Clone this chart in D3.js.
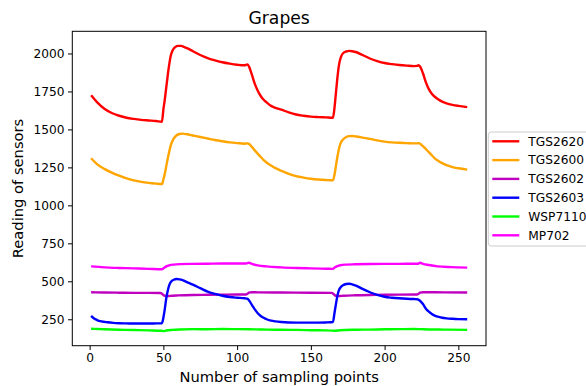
<!DOCTYPE html>
<html><head><meta charset="utf-8">
<script src="https://cdn.jsdelivr.net/npm/d3@7"></script>
<style>body{margin:0;background:#fff;}svg{display:block;font-family:"DejaVu Sans",sans-serif;}</style>
</head><body><svg id="c" width="586" height="386"></svg>
<script>
const title = "Grapes";
const xLabel = "Number of sampling points";
const yLabel = "Reading of sensors";
const xTicks = [0, 50, 100, 150, 200, 250];
const yTicks = [250, 500, 750, 1000, 1250, 1500, 1750, 2000];
const seriesNames = ["TGS2620", "TGS2600", "TGS2602", "TGS2603", "WSP7110", "MP702"];
const seriesColors = ["#ff0000", "#ffa500", "#bf00bf", "#0000ff", "#00ff00", "#ff00ff"];

const tgs2620 = [[1,1725],[5,1680],[10,1636],[15,1608],[20,1590],[25,1577],[30,1569],[35,1563],[40,1559],[45,1555],[49,1550],[50,1630],[51,1700],[52,1780],[53,1860],[54,1930],[55,1985],[56,2015],[57,2032],[58,2042],[60,2050],[62,2050],[64,2044],[66,2035],[70,2015],[75,1990],[80,1970],[85,1955],[90,1942],[95,1933],[100,1926],[105,1922],[107,1928],[108,1915],[110,1860],[112,1800],[114,1755],[116,1720],[118,1695],[120,1678],[123,1655],[126,1642],[130,1630],[135,1612],[140,1598],[145,1590],[150,1584],[155,1581],[160,1579],[165,1577],[166,1640],[167,1740],[168,1840],[169,1920],[170,1965],[171,1990],[172,2003],[174,2013],[176,2017],[178,2015],[181,2008],[185,1990],[190,1967],[195,1950],[200,1937],[205,1930],[210,1924],[215,1920],[220,1917],[222,1918],[223,1922],[224,1915],[226,1870],[228,1810],[230,1765],[232,1735],[234,1715],[236,1700],[239,1683],[242,1672],[246,1662],[250,1655],[256,1647]];
const tgs2600 = [[1,1310],[5,1272],[10,1240],[15,1215],[20,1195],[25,1178],[30,1165],[35,1155],[40,1148],[45,1143],[49,1140],[50,1170],[51,1210],[52,1260],[53,1310],[54,1355],[55,1395],[57,1440],[59,1462],[61,1470],[63,1472],[66,1468],[70,1460],[75,1450],[80,1440],[85,1430],[90,1422],[95,1415],[100,1410],[105,1406],[107,1408],[108,1405],[110,1385],[112,1362],[114,1340],[116,1318],[118,1298],[120,1282],[123,1262],[126,1245],[130,1228],[135,1208],[140,1193],[145,1183],[150,1175],[155,1170],[160,1167],[165,1165],[166,1200],[167,1260],[168,1320],[169,1370],[170,1405],[172,1435],[174,1450],[176,1456],[178,1457],[181,1453],[185,1446],[190,1438],[195,1428],[200,1420],[205,1415],[210,1412],[215,1410],[220,1408],[222,1408],[223,1410],[224,1406],[226,1390],[228,1370],[230,1350],[232,1330],[234,1310],[236,1295],[239,1278],[242,1265],[246,1252],[250,1244],[256,1235]];
const tgs2602 = [[1,428],[10,426],[20,425],[30,424],[40,424],[48,423],[49,418],[50,410],[51,405],[53,403],[56,405],[60,407],[70,410],[80,411],[90,412],[100,413],[106,413],[107,418],[108,425],[110,428],[114,427],[130,426],[150,425],[164,424],[165,420],[166,410],[167,405],[169,403],[172,405],[180,408],[190,410],[200,411],[210,412],[222,413],[223,418],[224,425],[226,428],[240,427],[256,426]];
const tgs2603 = [[1,272],[3,255],[5,245],[8,236],[12,230],[16,226],[20,224],[25,223],[30,222],[35,222],[40,222],[45,223],[49,224],[50,260],[51,320],[52,390],[53,440],[54,475],[55,495],[57,510],[59,515],[61,513],[63,508],[66,495],[70,478],[75,455],[80,432],[85,417],[90,405],[95,397],[100,392],[105,388],[107,385],[108,375],[110,345],[112,315],[114,290],[116,272],[118,260],[120,250],[123,241],[126,236],[130,232],[135,229],[140,228],[145,228],[150,228],[155,228],[160,229],[165,232],[166,290],[167,350],[168,405],[169,440],[170,458],[172,475],[174,482],[176,484],[178,480],[181,470],[185,450],[190,428],[195,410],[200,398],[205,392],[210,388],[215,385],[220,383],[222,382],[224,372],[226,350],[228,320],[230,300],[232,285],[234,274],[236,267],[239,260],[242,256],[246,253],[250,251],[256,250]];
const wsp7110 = [[1,188],[10,184],[20,181],[30,179],[40,177],[49,174],[50,172],[52,176],[56,180],[61,183],[70,185],[80,184],[90,186],[100,185],[108,184],[115,183],[120,182],[130,181],[140,180],[150,178],[160,177],[165,175],[166,174],[170,178],[180,181],[190,182],[200,184],[210,185],[220,186],[224,185],[230,183],[240,182],[256,180]];
const mp702 = [[1,598],[10,592],[20,588],[30,585],[40,582],[49,579],[50,585],[52,598],[54,605],[57,610],[61,613],[70,615],[80,616],[90,617],[100,617],[106,617],[108,622],[110,615],[114,605],[120,598],[130,592],[140,588],[150,585],[160,583],[165,582],[166,590],[168,600],[170,606],[174,610],[180,612],[190,614],[200,615],[210,615],[220,616],[223,616],[224,622],[226,615],[230,607],[236,598],[245,593],[256,590]];
const seriesData = [tgs2620, tgs2600, tgs2602, tgs2603, wsp7110, mp702];

const svg = d3.select("#c");
const L = 72.3, R = 486, T = 31.3, B = 345.7;
const x = d3.scaleLinear().domain([-11.75, 268.75]).range([L, R]);
const y = d3.scaleLinear().domain([76, 2146]).range([B, T]);

svg.append("rect").attr("x",0).attr("y",0).attr("width",586).attr("height",386).attr("fill","#fff");

const line = d3.line().x(d => x(d[0])).y(d => y(d[1])).curve(d3.curveMonotoneX);
const plot = svg.append("g");
seriesData.forEach((s, i) => {
  plot.append("path").datum(s).attr("d", line).attr("fill","none")
    .attr("stroke", seriesColors[i]).attr("stroke-width", 2.4)
    .attr("stroke-linejoin","round").attr("stroke-linecap","butt");
});

const xAxis = d3.axisBottom(x).tickValues(xTicks).tickFormat(d3.format("d")).tickSizeInner(4.3).tickSizeOuter(0).tickPadding(3.5);
const yAxis = d3.axisLeft(y).tickValues(yTicks).tickFormat(d3.format("d")).tickSizeInner(4.3).tickSizeOuter(0).tickPadding(3.5);
const gx = svg.append("g").attr("transform", `translate(0,${B})`).call(xAxis);
const gy = svg.append("g").attr("transform", `translate(${L},0)`).call(yAxis);
[gx, gy].forEach(g => {
  g.select(".domain").remove();
  g.selectAll("line").attr("stroke","#000").attr("stroke-width",1);
  g.selectAll("text").attr("fill","#000").style("font-size","12.2px").style("font-family","DejaVu Sans");
});

svg.append("rect").attr("x",L).attr("y",T).attr("width",R-L).attr("height",B-T)
  .attr("fill","none").attr("stroke","#000").attr("stroke-width",1);

svg.append("text").attr("x",(L+R)/2).attr("y",24).attr("text-anchor","middle")
  .style("font-size","17.2px").attr("fill","#000").text(title);
svg.append("text").attr("x",(L+R)/2).attr("y",382).attr("text-anchor","middle")
  .style("font-size","14.7px").attr("fill","#000").text(xLabel);
svg.append("text").attr("transform",`translate(23,${(T+B)/2}) rotate(-90)`).attr("text-anchor","middle")
  .style("font-size","14.7px").attr("fill","#000").text(yLabel);

const lg = svg.append("g");
lg.append("rect").attr("x",488.3).attr("y",132).attr("width",140).attr("height",114)
  .attr("rx",3).attr("fill","#fff").attr("fill-opacity",0.8).attr("stroke","#cccccc").attr("stroke-width",1);
seriesNames.forEach((n, i) => {
  const yy = 141.3 + i * 18.8;
  lg.append("line").attr("x1",492.3).attr("x2",519.3).attr("y1",yy).attr("y2",yy)
    .attr("stroke",seriesColors[i]).attr("stroke-width",2.4);
  lg.append("text").attr("x",528.3).attr("y",yy).attr("dy","0.35em")
    .style("font-size","12.2px").attr("fill","#000").text(n);
});
</script></body></html>
